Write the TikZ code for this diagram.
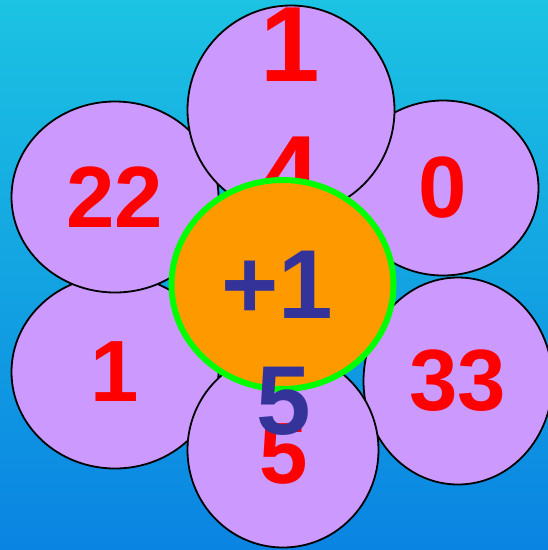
\documentclass[tikz,border=0pt]{standalone}
\usepackage{fontspec}
\setmainfont{Liberation Sans}
\usetikzlibrary{shapes.geometric}
\definecolor{bgtop}{HTML}{1CC3E2}
\definecolor{bgbot}{HTML}{0A84E2}
\definecolor{petal}{HTML}{CC99FF}
\definecolor{core}{HTML}{FF9900}
\definecolor{ring}{HTML}{00FF00}
\definecolor{navy}{HTML}{333399}
\definecolor{numred}{HTML}{FF0000}
\tikzset{
  petalbox/.style={ellipse, draw=black, line width=1.8pt, fill=petal, inner sep=0pt,
    text=numred, font=\fontsize{87}{104}\selectfont\bfseries},
  corebox/.style={ellipse, draw=ring, line width=6pt, fill=core, inner sep=0pt},
  bluetext/.style={text=navy, inner sep=0pt, font=\fontsize{98}{118}\selectfont\bfseries}
}
\begin{document}
\begin{tikzpicture}[x=1pt,y=1pt]
\shade[top color=bgtop, bottom color=bgbot] (0,0) rectangle (548,-550);
\useasboundingbox (0,0) rectangle (548,-550);
\node[petalbox, minimum width=207pt, minimum height=193pt] (pone) at (115,-372) {1};
\node[petalbox, minimum width=207pt, minimum height=191pt] (ptwo) at (115,-197) {22};
\node[petalbox, minimum width=191pt, minimum height=175pt] (pzero) at (443,-188) {0};
\node[petalbox, minimum width=207pt, minimum height=209pt] (ptop) at (291,-110) {};
\node[text=numred, inner sep=0pt, align=center,
      font=\fontsize{107}{129}\selectfont\bfseries] (ttop) at (290,-109) {1\\4};
\node[petalbox, minimum width=189pt, minimum height=207pt] (pthree) at (458,-381) {33};
\node[petalbox, minimum width=191pt, minimum height=195pt] (pfive) at (283,-450) {};
\node[text=numred, inner sep=0pt, font=\fontsize{87}{104}\selectfont\bfseries] (tfive) at (284,-454) {5};
\node[corebox, minimum width=222pt, minimum height=209pt] (core) at (282.5,-284.5) {};
\node[bluetext] (plus) at (277.5,-285) {+1};
\node[bluetext] (bfive) at (283.5,-401) {5};
\end{tikzpicture}
\end{document}
